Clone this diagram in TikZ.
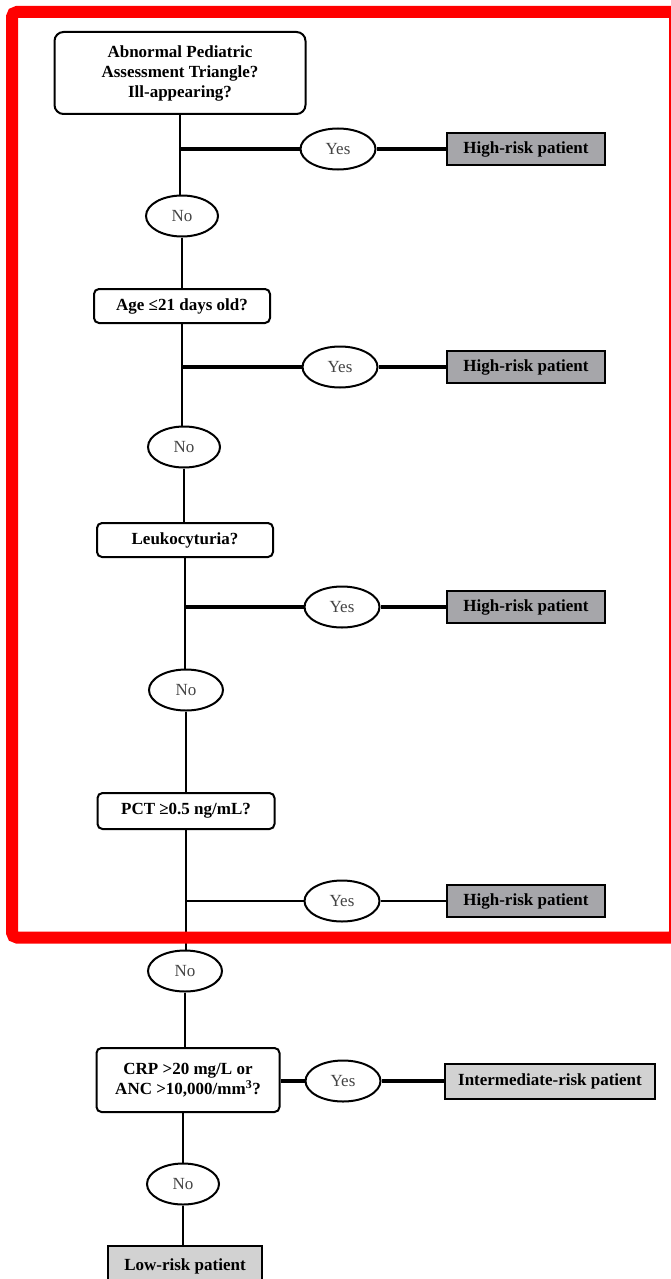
\documentclass[tikz,border=0pt]{standalone}
\usepackage{fontspec}
\setmainfont{Liberation Serif}
\usetikzlibrary{shapes.geometric}
\definecolor{hrgray}{HTML}{A6A6AA}
\definecolor{lightgray}{HTML}{D2D2D2}
\definecolor{yntext}{HTML}{444444}
\definecolor{framered}{HTML}{FF0000}
\begin{document}
\begin{tikzpicture}[x=1pt,y=-1pt,
  qbox/.style={draw, line width=2pt, rounded corners=5pt, fill=white,
    font=\fontsize{17}{20}\selectfont\bfseries, align=center, inner sep=0pt},
  yn/.style={draw, ellipse, line width=2pt, fill=white, minimum width=75pt,
    minimum height=41pt, inner sep=0pt, font=\fontsize{17}{20}\selectfont, text=yntext},
  outbox/.style={draw, line width=2pt, fill=hrgray, inner sep=0pt,
    font=\fontsize{17}{20}\selectfont\bfseries, minimum height=32pt},
  thinline/.style={line width=2pt},
  thickline/.style={line width=4.5pt}
]
\useasboundingbox (0,0) rectangle (671,1279);
\fill[white] (0,0) rectangle (671,1279);

% question boxes
\node[qbox, rounded corners=9pt, minimum width=251pt, minimum height=82pt] (q1) at (180,73)
  {\raisebox{0pt}[\height][\depth]{}Abnormal Pediatric\\Assessment Triangle?\\Ill-appearing?};
\node[qbox, minimum width=176pt, minimum height=34pt] (q2) at (182,306) {Age ≤21 days old?};
\node[qbox, minimum width=176pt, minimum height=34pt] (q3) at (185,540) {Leukocyturia?};
\node[qbox, minimum width=177pt, minimum height=36pt] (q4) at (186,811) {PCT ≥0.5 ng/mL?};
\node[qbox, minimum width=183pt, minimum height=64pt] (q5) at (188,1080)
  {CRP >20 mg/L or\\ANC >10,000/mm\textsuperscript{3}?};

% No ellipses
\node[yn, minimum width=72pt] (n1) at (182,216) {No};
\node[yn, minimum width=72pt] (n2) at (184,447) {No};
\node[yn, minimum width=74pt] (n3) at (186,690) {No};
\node[yn, minimum width=74pt] (n4) at (185,971) {No};
\node[yn, minimum width=72pt] (n5) at (183,1184) {No};

% Yes ellipses
\node[yn] (y1) at (338,149) {Yes};
\node[yn] (y2) at (340,367) {Yes};
\node[yn] (y3) at (342,607) {Yes};
\node[yn] (y4) at (342,901) {Yes};
\node[yn] (y5) at (343,1081) {Yes};

% outcome boxes
\node[outbox, minimum width=158pt] (h1) at (526,149) {High-risk patient};
\node[outbox, minimum width=158pt] (h2) at (526,367) {High-risk patient};
\node[outbox, minimum width=158pt] (h3) at (526,607) {High-risk patient};
\node[outbox, minimum width=158pt] (h4) at (526,901) {High-risk patient};
\node[outbox, fill=lightgray, minimum width=210pt, minimum height=35pt] (im) at (550,1081) {Intermediate-risk patient};
\node[outbox, fill=lightgray, minimum width=154pt, minimum height=40pt] (lo) at (185,1266) {Low-risk patient};

% branch points
\coordinate (b1) at (q1.south |- y1);
\coordinate (b2) at (q2.south |- y2);
\coordinate (b3) at (q3.south |- y3);
\coordinate (b4) at (q4.south |- y4);

% vertical connectors
\draw[thinline] (q1.south) -- (b1) -- (q1.south |- n1.north);
\draw[thinline] (n1.south) -- (n1.south |- q2.north);
\draw[thinline] (q2.south) -- (b2) -- (q2.south |- n2.north);
\draw[thinline] (n2.south) -- (n2.south |- q3.north);
\draw[thinline] (q3.south) -- (b3) -- (q3.south |- n3.north);
\draw[thinline] (n3.south) -- (n3.south |- q4.north);
\draw[thinline] (q4.south) -- (b4) -- (q4.south |- n4.north);
\draw[thinline] (n4.south) -- (n4.south |- q5.north);
\draw[thinline] (n5.north |- q5.south) -- (n5.north);
\draw[thinline] (n5.south) -- (n5.south |- lo.north);

% horizontal connectors
\draw[thickline] (b1) -- (y1.west);
\draw[thickline] (y1.east) -- (h1.west);
\draw[thickline] (b2) -- (y2.west);
\draw[thickline] (y2.east) -- (h2.west);
\draw[thickline] (b3) -- (y3.west);
\draw[thickline] (y3.east) -- (h3.west);
\draw[line width=2.6pt] (b4) -- (y4.west);
\draw[line width=2.6pt] (y4.east) -- (h4.west);
\draw[thickline] (q5.east |- y5.west) -- (y5.west);
\draw[thickline] (y5.east) -- (im.west);

% red frame
\draw[framered, line width=12pt, rounded corners=5pt] (12,12) rectangle (675,937.5);
\end{tikzpicture}
\end{document}
